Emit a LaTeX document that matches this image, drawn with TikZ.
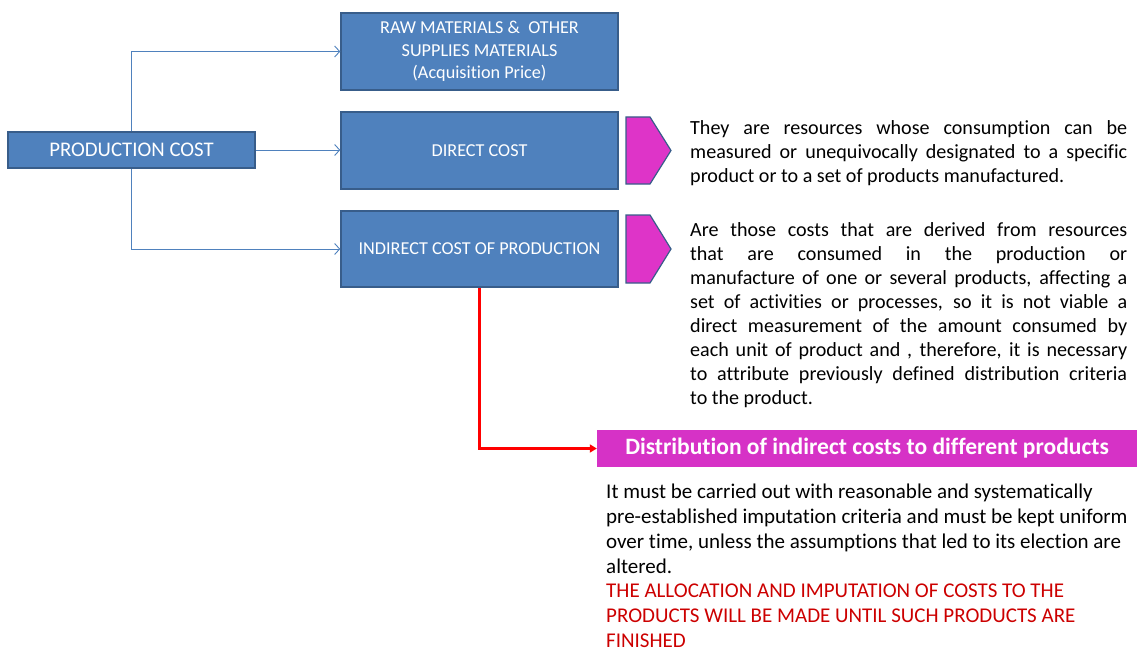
\documentclass[tikz,border=0pt]{standalone}
\usepackage{fontspec}
\setmainfont{Carlito}[Ligatures=NoCommon]
\usetikzlibrary{arrows.meta}
\definecolor{boxblue}{RGB}{79,129,189}
\definecolor{boxedge}{RGB}{56,93,138}
\definecolor{tagpink}{RGB}{222,52,200}
\definecolor{barpink}{RGB}{214,50,198}
\definecolor{notered}{RGB}{204,0,0}
\tikzset{
  costbox/.style={draw=boxedge, line width=1.5pt, fill=boxblue, text=white,
    inner sep=0pt, align=center, font=\fontsize{18.2}{22.5}\selectfont},
  conn/.style={draw=boxblue, line width=0.9pt, -{Straight Barb[length=5pt,width=11pt]}},
  redconn/.style={draw=red, line width=2.2pt, -{Triangle[length=7pt,width=8pt]}},
  tag/.style={draw=boxedge, line width=1.2pt, fill=tagpink},
  para/.style={anchor=north west, inner sep=0pt, align=left,
    font=\fontsize{20.1}{24}\selectfont}
}
\begin{document}
\begin{tikzpicture}[x=1pt,y=-1pt]
\useasboundingbox (0,0) rectangle (1137,650);

% cost boxes
\node[costbox, minimum width=247pt, minimum height=36pt, font=\fontsize{20.8}{22}\selectfont]
  (pc) at (131.5,150) {PRODUCTION COST};
\node[costbox, minimum width=277pt, minimum height=77pt] (raw) at (479.5,51.5)
  {\rule{0pt}{4pt}RAW MATERIALS \&\ \ OTHER\\SUPPLIES MATERIALS\\(Acquisition Price)};
\node[costbox, minimum width=277pt, minimum height=77pt] (dc) at (479.5,150.5) {DIRECT COST};
\node[costbox, minimum width=277pt, minimum height=76pt] (ic) at (479.5,249) {INDIRECT COST OF PRODUCTION};

% connectors from production cost
\draw[conn] (pc.north) |- (raw.west);
\draw[conn] (pc.east) -- (pc.east -| dc.west);
\draw[conn] (pc.south) |- (ic.west);

% pointer tags
\draw[tag] (626,117) -- (650,117) -- (671,150.5) -- (650,184) -- (626,184) -- cycle;
\draw[tag] (626,215) -- (650,215) -- (671,249) -- (650,283) -- (626,283) -- cycle;

% explanations
\node[para] (dtext) at (690,120) {%
\makebox[437pt][s]{They are resources whose consumption can be}\\
\makebox[437pt][s]{measured or unequivocally designated to a specific}\\
product or to a set of products manufactured.};

\node[para] (itext) at (690,222) {%
\makebox[437pt][s]{Are those costs that are derived from resources}\\
\makebox[437pt][s]{that are consumed in the production or}\\
\makebox[437pt][s]{manufacture of one or several products, affecting a}\\
\makebox[437pt][s]{set of activities or processes, so it is not viable a}\\
\makebox[437pt][s]{direct measurement of the amount consumed by}\\
\makebox[437pt][s]{each unit of product and , therefore, it is necessary}\\
\makebox[437pt][s]{to attribute previously defined distribution criteria}\\
to the product.};

% distribution bar
\node[fill=barpink, text=white, minimum width=540pt, minimum height=37pt, inner sep=0pt,
  font=\fontsize{23.5}{26}\bfseries] (bar) at (867,448.5)
  {Distribution of indirect costs to different products};
\draw[redconn] (ic.south) |- (bar.west);

\node[para, font=\fontsize{21}{24.8}\selectfont] (rule) at (606,484) {%
It must be carried out with reasonable and systematically\\
pre-established imputation criteria and must be kept uniform\\
over time, unless the assumptions that led to its election are\\
altered.\\
\textcolor{notered}{THE ALLOCATION AND IMPUTATION OF COSTS TO THE}\\
\textcolor{notered}{PRODUCTS WILL BE MADE UNTIL SUCH PRODUCTS ARE}\\
\textcolor{notered}{FINISHED}};
\end{tikzpicture}
\end{document}
